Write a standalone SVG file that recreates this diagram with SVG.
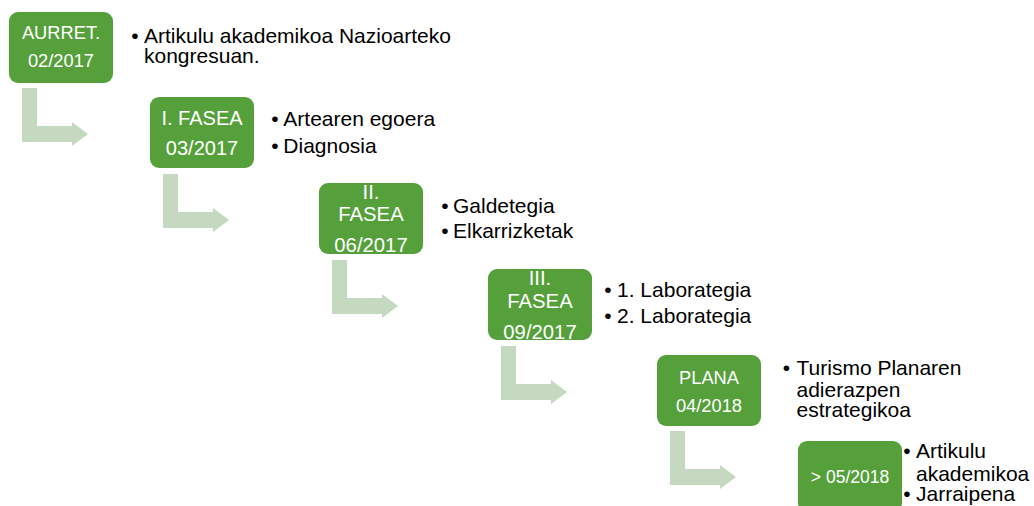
<svg xmlns="http://www.w3.org/2000/svg" width="1034" height="506" viewBox="0 0 1034 506">
<style>
.box{fill:#56A03C;}
.arr{fill:#C5D9C1;}
.nt{fill:#FFFFFF;font-family:"Liberation Sans",Arial,sans-serif;text-anchor:middle;}
.bt{fill:#000000;font-family:"Liberation Sans",Arial,sans-serif;font-size:21px;}
.bl{fill:#000000;font-family:"Liberation Sans",Arial,sans-serif;font-size:21px;text-anchor:middle;}
</style>
<defs>
<path id="bent" d="M0,0 H15 V38 H50 V34 L66,46 L50,58 V54 H0 Z"/>
</defs>
<rect width="1034" height="506" fill="#FFFFFF"/>
<g id="connectors">
<use href="#bent" class="arr" x="22" y="88"/>
<use href="#bent" class="arr" x="163" y="174"/>
<use href="#bent" class="arr" x="332" y="260"/>
<use href="#bent" class="arr" x="501" y="346"/>
<use href="#bent" class="arr" x="670" y="431"/>
</g>
<g id="node1">
<rect class="box" x="9" y="12" width="104" height="71" rx="9"/>
<text class="nt" font-size="18.3" x="61" y="39.3">AURRET.</text>
<text class="nt" font-size="18.3" x="61" y="66.7">02/2017</text>
<text class="bl" x="135" y="43.3">•</text>
<text class="bt" x="144" y="43.3">Artikulu akademikoa Nazioarteko</text>
<text class="bt" x="144" y="63.3">kongresuan.</text>
</g>
<g id="node2">
<rect class="box" x="150" y="97" width="104" height="71" rx="9"/>
<text class="nt" font-size="20" x="202" y="125.3">I. FASEA</text>
<text class="nt" font-size="20" x="202" y="155.3">03/2017</text>
<text class="bl" x="275" y="126">•</text>
<text class="bt" x="283.3" y="126">Artearen egoera</text>
<text class="bl" x="275" y="152.7">•</text>
<text class="bt" x="283.3" y="152.7">Diagnosia</text>
</g>
<g id="node3">
<rect class="box" x="319" y="183" width="104" height="71" rx="9"/>
<text class="nt" font-size="20.3" x="371" y="199">II.</text>
<text class="nt" font-size="20.3" x="371" y="221">FASEA</text>
<text class="nt" font-size="20.3" x="371" y="251.7">06/2017</text>
<text class="bl" x="445" y="212.7">•</text>
<text class="bt" x="453" y="212.7">Galdetegia</text>
<text class="bl" x="445" y="237.7">•</text>
<text class="bt" x="453" y="237.7">Elkarrizketak</text>
</g>
<g id="node4">
<rect class="box" x="488" y="269" width="104" height="71" rx="9"/>
<text class="nt" font-size="20.3" x="540" y="285.3">III.</text>
<text class="nt" font-size="20.3" x="540" y="308">FASEA</text>
<text class="nt" font-size="20.3" x="540" y="338.7">09/2017</text>
<text class="bl" x="608" y="296.7">•</text>
<text class="bt" x="617" y="296.7">1. Laborategia</text>
<text class="bl" x="608" y="323.3">•</text>
<text class="bt" x="617" y="323.3">2. Laborategia</text>
</g>
<g id="node5">
<rect class="box" x="657" y="355" width="104" height="71" rx="9"/>
<text class="nt" font-size="18.3" x="709" y="384.3">PLANA</text>
<text class="nt" font-size="18.3" x="709" y="411.7">04/2018</text>
<text class="bl" x="786.5" y="375">•</text>
<text class="bt" x="796.5" y="375">Turismo Planaren</text>
<text class="bt" x="796.5" y="397">adierazpen</text>
<text class="bt" x="796.5" y="417">estrategikoa</text>
</g>
<g id="node6">
<rect class="box" x="798" y="441" width="104" height="71" rx="9"/>
<text class="nt" font-size="17.5" x="850" y="482.7">&gt; 05/2018</text>
<text class="bl" x="907" y="458">•</text>
<text class="bt" x="916" y="458">Artikulu</text>
<text class="bt" x="916" y="481">akademikoa</text>
<text class="bl" x="907" y="501">•</text>
<text class="bt" x="916" y="501">Jarraipena</text>
</g>
</svg>
